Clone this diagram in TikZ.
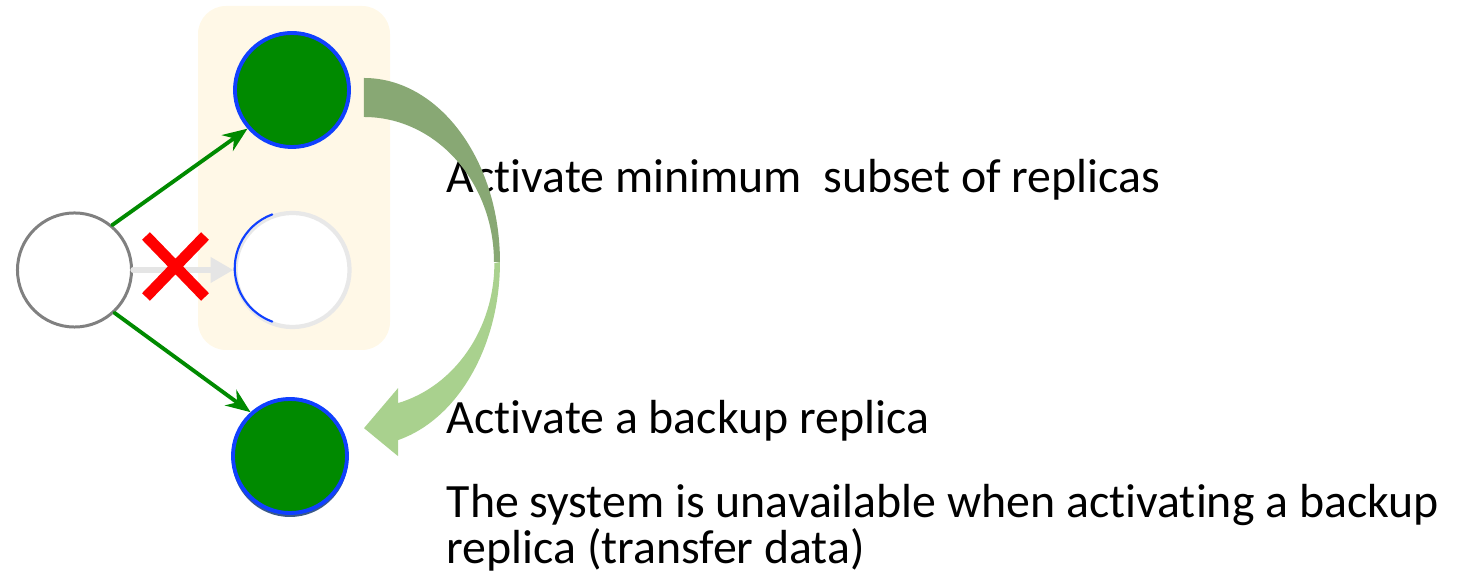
\documentclass[tikz,border=0pt]{standalone}
\usepackage{fontspec}
\setmainfont{Carlito}[Ligatures=NoCommon]
\usetikzlibrary{arrows.meta}
\definecolor{linkgreen}{HTML}{008A00}
\definecolor{ringblue}{HTML}{1040FF}
\definecolor{panelcream}{HTML}{FFF8E7}
\definecolor{sagedark}{HTML}{88A874}
\definecolor{sagelight}{HTML}{A9D18E}
\definecolor{shadowblue}{HTML}{3A5A8A}
\begin{document}
\begin{tikzpicture}[line cap=round,line join=round,>={Stealth[length=7pt,width=5.5pt]},x=0.01cm,y=-0.01cm,
  replica/.style={circle,minimum size=1.14cm,inner sep=0pt,fill=linkgreen,draw=ringblue,line width=1.1pt},
  idle/.style={circle,minimum size=1.14cm,inner sep=0pt,fill=white,draw=gray!18,line width=1.2pt},
  client/.style={circle,minimum size=1.14cm,inner sep=0pt,fill=white,draw=gray,line width=0.85pt},
  link/.style={->,linkgreen,line width=1.1pt},
  lost/.style={-{Triangle[length=6.5pt,width=7pt]},gray!20,line width=1.5pt},
  note/.style={anchor=base west,inner sep=0pt,font=\fontsize{13.6}{13.1}\selectfont}]
\useasboundingbox (0,0) rectangle (1473,583);
\fill[panelcream,rounded corners=0.28cm] (198,6) rectangle (390,350);
\node[client] (src) at (74.5,270) {};
\node[replica] (top) at (292,90) {};
\node[idle] (mid) at (292.5,270) {};
\draw[ringblue,line width=0.6pt] (mid.110) arc[start angle=110,end angle=250,radius=0.57cm];
\fill[shadowblue] (290,459) circle[radius=58];
\node[replica] (bot) at (290,456) {};
\draw[link] (src.50) -- (top.221);
\draw[link] (src.-47) -- (bot.132);
\draw[lost] (src.east) -- (mid.west);
\draw[red,line width=3.1pt,line cap=butt] (146,236) -- (205,297) (146,297) -- (205,236);
\node[note] (minset) at (446,193) {Activate minimum\ \ subset of replicas};
\node[note] (backup) at (446,434) {Activate a backup replica};
\node[note,align=left] (unavail) at (446,564) {The system is unavailable when activating a backup\\replica (transfer data)};
\fill[sagedark] ([shift={(13,-12)}]top.east) arc[start angle=-90,end angle=0,x radius=136,y radius=184] coordinate (bend) -- ++(-6,0) arc[start angle=0,end angle=-90,x radius=130,y radius=145] -- cycle;
\fill[sagelight] (bend) arc[start angle=0,end angle=75.5,x radius=136,y radius=184] -- ++(0,16) -- ++(-34,-28) -- ++(34,-40) -- ++(0,15) arc[start angle=75,end angle=0,x radius=130,y radius=145] -- cycle;
\end{tikzpicture}
\end{document}
